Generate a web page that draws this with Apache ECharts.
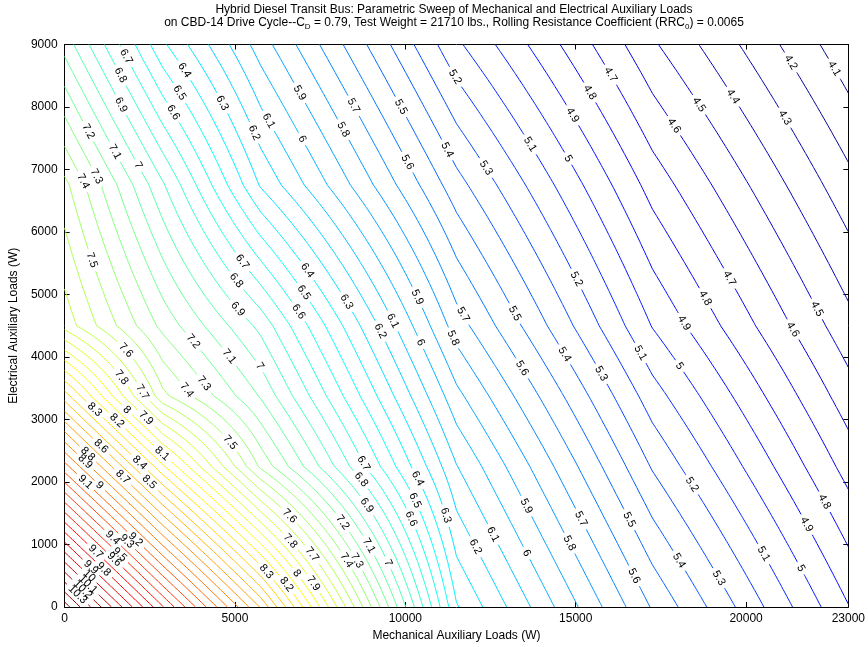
<!DOCTYPE html>
<html>
<head>
<meta charset="utf-8">
<script src="https://cdn.jsdelivr.net/npm/echarts@6/dist/echarts.min.js"></script>
<style>
  html, body { margin: 0; padding: 0; background: #fff; }
  #chart { width: 868px; height: 647px; }
</style>
</head>
<body>
<div id="chart"></div>
<script>
// Simulation grid: mechanical and electrical auxiliary loads (W)
const mechLoadsW = [0, 2875, 5750, 11500, 17250, 23000];
const elecLoadsW = [0, 2250, 3375, 4500, 6750, 9000];

// Fuel economy (mpg) at each grid node; one row per electrical load,
// one column per mechanical load
const fuelEconomyMpg = [
  [10.55, 9.61, 8.69, 6.41, 5.59, 4.905],
  [9.14, 8.22, 7.38, 6.105, 5.29, 4.66],
  [8.45, 7.53, 7.09, 5.93, 5.145, 4.545],
  [7.76, 7.27, 6.87, 5.75, 4.995, 4.435],
  [7.53, 6.915, 6.29, 5.44, 4.76, 4.233],
  [7.06, 6.42, 5.95, 5.12, 4.515, 4.03]
];

// Contour levels drawn and labelled
const contourLevels = [
  4.1, 4.2, 4.3, 4.4, 4.5, 4.6, 4.7, 4.8, 4.9, 5.0,
  5.1, 5.2, 5.3, 5.4, 5.5, 5.6, 5.7, 5.8, 5.9, 6.0,
  6.1, 6.2, 6.3, 6.4, 6.5, 6.6, 6.7, 6.8, 6.9, 7.0,
  7.1, 7.2, 7.3, 7.4, 7.5, 7.6, 7.7, 7.8, 7.9, 8.0,
  8.1, 8.2, 8.3, 8.4, 8.5, 8.6, 8.7, 8.8, 8.9, 9.0,
  9.1, 9.2, 9.3, 9.4, 9.5, 9.6, 9.7, 9.8, 9.9, 10.0,
  10.1, 10.2, 10.3, 10.4, 10.5
];

const FONT = '"Liberation Sans", Arial, Helvetica, sans-serif';

// Bilinear value of the simulation grid at (x, y)
function gridValue(x, y) {
  const cell = (arr, v) => {
    let c = 0;
    while (c < arr.length - 2 && v > arr[c + 1]) c++;
    return c;
  };
  const i = cell(mechLoadsW, x), j = cell(elecLoadsW, y);
  const u = (x - mechLoadsW[i]) / (mechLoadsW[i + 1] - mechLoadsW[i]);
  const v = (y - elecLoadsW[j]) / (elecLoadsW[j + 1] - elecLoadsW[j]);
  const F = fuelEconomyMpg;
  return (1 - u) * (1 - v) * F[j][i] + u * (1 - v) * F[j][i + 1] +
         (1 - u) * v * F[j + 1][i] + u * v * F[j + 1][i + 1];
}

// Sample the surface on a regular lattice for contour tracing
function buildSurface(nxCells, nyCells) {
  const x0 = mechLoadsW[0], x1 = mechLoadsW[mechLoadsW.length - 1];
  const y0 = elecLoadsW[0], y1 = elecLoadsW[elecLoadsW.length - 1];
  const X = [], Y = [];
  for (let i = 0; i <= nxCells; i++) X.push(x0 + (x1 - x0) * i / nxCells);
  for (let j = 0; j <= nyCells; j++) Y.push(y0 + (y1 - y0) * j / nyCells);
  const Z = Y.map(y => X.map(x => gridValue(x, y)));
  return { X, Y, Z };
}

// Marching squares: returns polylines (data coordinates) for one level
function contourPaths(surf, L) {
  const { X, Y, Z } = surf;
  const nx = X.length, ny = Y.length;
  const pts = new Map(), adj = new Map();
  const cross = (key, xa, ya, za, xb, yb, zb) => {
    if (!pts.has(key)) {
      const t = (L - za) / (zb - za);
      pts.set(key, [xa + t * (xb - xa), ya + t * (yb - ya)]);
    }
    return key;
  };
  const link = (a, b) => {
    if (!adj.has(a)) adj.set(a, []);
    if (!adj.has(b)) adj.set(b, []);
    adj.get(a).push(b);
    adj.get(b).push(a);
  };
  for (let j = 0; j < ny - 1; j++) {
    for (let i = 0; i < nx - 1; i++) {
      const z00 = Z[j][i], z10 = Z[j][i + 1], z01 = Z[j + 1][i], z11 = Z[j + 1][i + 1];
      const a00 = z00 >= L, a10 = z10 >= L, a01 = z01 >= L, a11 = z11 >= L;
      if (a00 === a10 && a00 === a01 && a00 === a11) continue;
      const e = {};
      if (a00 !== a10) e.b = cross('h' + i + '_' + j, X[i], Y[j], z00, X[i + 1], Y[j], z10);
      if (a10 !== a11) e.r = cross('v' + (i + 1) + '_' + j, X[i + 1], Y[j], z10, X[i + 1], Y[j + 1], z11);
      if (a01 !== a11) e.t = cross('h' + i + '_' + (j + 1), X[i], Y[j + 1], z01, X[i + 1], Y[j + 1], z11);
      if (a00 !== a01) e.l = cross('v' + i + '_' + j, X[i], Y[j], z00, X[i], Y[j + 1], z01);
      const ks = Object.keys(e);
      if (ks.length === 2) {
        link(e[ks[0]], e[ks[1]]);
      } else if (ks.length === 4) {
        const c = (z00 + z10 + z01 + z11) / 4 >= L;
        if (c === a00) { link(e.b, e.r); link(e.t, e.l); }
        else { link(e.b, e.l); link(e.t, e.r); }
      }
    }
  }
  const used = new Set();
  const walk = (start) => {
    const path = [start];
    used.add(start);
    let cur = start;
    for (;;) {
      const nb = (adj.get(cur) || []).find(k => !used.has(k));
      if (nb === undefined) break;
      path.push(nb);
      used.add(nb);
      cur = nb;
    }
    return path;
  };
  const paths = [];
  for (const [k, v] of adj) if (v.length === 1 && !used.has(k)) paths.push(walk(k));
  for (const k of adj.keys()) {
    if (!used.has(k)) { const p = walk(k); p.push(p[0]); paths.push(p); }
  }
  return paths.map(p => p.map(k => pts.get(k)));
}

// MATLAB-style jet colormap
function jet(t) {
  const c = v => Math.round(255 * Math.max(0, Math.min(1, v)));
  return 'rgb(' + c(Math.min(4 * t - 1.5, -4 * t + 4.5)) + ',' +
                  c(Math.min(4 * t - 0.5, -4 * t + 3.5)) + ',' +
                  c(Math.min(4 * t + 0.5, -4 * t + 2.5)) + ')';
}

const surface = buildSurface(200, 160);
const allZ = fuelEconomyMpg.flat();
const zMin = Math.min(...allZ), zMax = Math.max(...allZ);

const contourLines = [];
contourLevels.forEach((L, idx) => {
  if (L <= zMin || L >= zMax) return;
  contourPaths(surface, L).forEach(points => {
    if (points.length < 2) return;
    // trace every line from its upper / left end
    const a = points[0], b = points[points.length - 1];
    if (b[1] > a[1] || (b[1] === a[1] && b[0] < a[0])) points.reverse();
    contourLines.push({ level: L, levelIndex: idx, points });
  });
});

const LABEL_SPACING = 236;
const LABEL_FONT_SIZE = 11;
const fmtLevel = v => String(Number(v.toFixed(1)));
const textWidth = s => {
  let w = 0;
  for (const ch of s) w += (ch === '.' ? 0.278 : 0.556) * LABEL_FONT_SIZE;
  return w;
};

// Where the first label sits along a line varies from level to level
function labelPhase(levelIndex) {
  const h = Math.sin((levelIndex + 1) * 12.9898) * 43758.5453;
  return h - Math.floor(h);
}

function labelPositions(len, w, levelIndex) {
  const edge = w / 2 + 6;
  if (len < w + 8) return [];
  if (len < 2 * edge + 40) return [len / 2];
  const first = Math.min(edge + labelPhase(levelIndex) * 130, len / 2);
  const out = [];
  for (let s = first; s <= len - edge; s += LABEL_SPACING) out.push(s);
  return out;
}

function renderContour(params, api) {
  const item = contourLines[api.value(0)];
  const pts = item.points.map(p => api.coord(p));
  const cum = [0];
  for (let k = 1; k < pts.length; k++) {
    cum.push(cum[k - 1] + Math.hypot(pts[k][0] - pts[k - 1][0], pts[k][1] - pts[k - 1][1]));
  }
  const len = cum[cum.length - 1];
  const at = (s) => {
    s = Math.max(0, Math.min(len, s));
    let k = 0;
    while (k < cum.length - 2 && cum[k + 1] < s) k++;
    const seg = cum[k + 1] - cum[k] || 1;
    const t = (s - cum[k]) / seg;
    return [pts[k][0] + t * (pts[k + 1][0] - pts[k][0]), pts[k][1] + t * (pts[k + 1][1] - pts[k][1])];
  };
  const text = fmtLevel(item.level);
  const w = textWidth(text);
  const labels = labelPositions(len, w, item.levelIndex);

  const half = w / 2 + 4;
  const keep = [];
  let from = 0;
  labels.forEach(s => {
    if (s - half > from) keep.push([from, s - half]);
    from = s + half;
  });
  if (from < len) keep.push([from, len]);

  const color = jet((item.level - zMin) / (zMax - zMin));
  const children = [];
  keep.forEach(([a, b]) => {
    const piece = [at(a)];
    for (let k = 0; k < cum.length; k++) if (cum[k] > a && cum[k] < b) piece.push(pts[k]);
    piece.push(at(b));
    children.push({
      type: 'polyline',
      shape: { points: piece },
      style: { stroke: color, lineWidth: 1, fill: null },
      silent: true
    });
  });
  labels.forEach(s => {
    const p = at(s), p0 = at(s - 6), p1 = at(s + 6);
    let dx = p1[0] - p0[0], dy = p1[1] - p0[1];
    if (dx < 0) { dx = -dx; dy = -dy; }
    children.push({
      type: 'text',
      x: p[0], y: p[1],
      rotation: -Math.atan2(dy, dx),
      style: {
        text, fill: '#000', font: LABEL_FONT_SIZE + 'px ' + FONT,
        align: 'center', verticalAlign: 'middle'
      },
      silent: true
    });
  });
  return { type: 'group', children };
}

const axisCommon = {
  type: 'value',
  axisLine: { show: true, onZero: false, lineStyle: { color: '#000', width: 1 } },
  axisTick: { show: true, inside: true, length: 5, lineStyle: { color: '#000' } },
  splitLine: { show: false },
  axisLabel: { color: '#000', fontSize: 12, fontFamily: FONT, formatter: v => String(v) }
};

const chart = echarts.init(document.getElementById('chart'), null, { renderer: 'canvas' });
chart.setOption({
  animation: false,
  backgroundColor: '#fff',
  grid: { left: 60, right: 19.5, top: 44.5, bottom: 40, containLabel: false },
  graphic: [
    {
      type: 'text', x: 454, y: 10,
      style: {
        text: 'Hybrid Diesel Transit Bus: Parametric Sweep of Mechanical and Electrical Auxiliary Loads',
        font: '12px ' + FONT, fill: '#000', align: 'center', verticalAlign: 'middle'
      }
    },
    {
      type: 'text', x: 454, y: 23,
      style: {
        text: 'on CBD-14 Drive Cycle--C{s|D} = 0.79, Test Weight = 21710 lbs., Rolling Resistance Coefficient (RRC{s|0}) = 0.0065',
        fontSize: 12, fontFamily: FONT, fill: '#000', align: 'center', verticalAlign: 'middle',
        rich: { s: { fontSize: 8, fontFamily: FONT, fill: '#000', padding: [7, 0, 0, 0] } }
      }
    }
  ],
  xAxis: [
    Object.assign({}, axisCommon, {
      min: 0, max: 23000, interval: 5000, position: 'bottom',
      name: 'Mechanical Auxiliary Loads (W)', nameLocation: 'middle', nameGap: 22,
      nameTextStyle: { color: '#000', fontSize: 12, fontFamily: FONT },
      axisLabel: Object.assign({}, axisCommon.axisLabel, { margin: 6 })
    }),
    Object.assign({}, axisCommon, {
      min: 0, max: 23000, interval: 5000, position: 'top',
      axisLabel: { show: false }
    })
  ],
  yAxis: [
    Object.assign({}, axisCommon, {
      min: 0, max: 9000, interval: 1000, position: 'left',
      name: 'Electrical Auxiliary Loads (W)', nameLocation: 'middle', nameGap: 40,
      nameTextStyle: { color: '#000', fontSize: 12, fontFamily: FONT },
      axisLabel: Object.assign({}, axisCommon.axisLabel, { margin: 7 })
    }),
    Object.assign({}, axisCommon, {
      min: 0, max: 9000, interval: 1000, position: 'right',
      axisLabel: { show: false }
    })
  ],
  series: [{
    type: 'custom',
    coordinateSystem: 'cartesian2d',
    xAxisIndex: 0, yAxisIndex: 0,
    renderItem: renderContour,
    data: contourLines.map((c, i) => [i]),
    encode: { x: -1, y: -1 },
    silent: true,
    z: 2
  }]
});
</script>
</body>
</html>
